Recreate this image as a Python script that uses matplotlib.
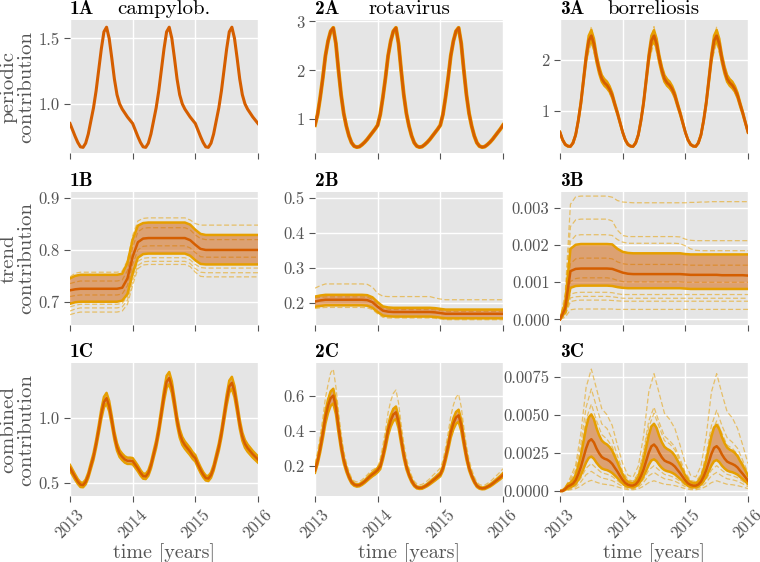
import numpy as np
import matplotlib
matplotlib.use("Agg")
import matplotlib.pyplot as plt

plt.style.use("ggplot")
plt.rcParams["font.family"] = ["cmr10", "DejaVu Serif"]
plt.rcParams["axes.formatter.use_mathtext"] = True
plt.rcParams["mathtext.fontset"] = "cm"

ORANGE = "#E69F00"
VERMILLION = "#D55E00"

# time grids: half-month steps and month steps over 2013-2016
T_HALF = np.linspace(2013, 2016, 73)
T_MONTH = np.linspace(2013, 2016, 37)
YEAR_TICKS = [2013, 2014, 2015, 2016]
YEAR_LABELS = ["2013", "2014", "2015", "2016"]

DISEASES = ["campylob.", "rotavirus", "borreliosis"]
ROW_LABELS = ["periodic\ncontribution", "trend\ncontribution", "combined\ncontribution"]

# ---- row A: periodic contribution (half-month values) ----
A1_MED = [0.85, 0.80, 0.75, 0.705, 0.672, 0.668, 0.70, 0.77, 0.87, 0.97, 1.10, 1.26, 1.42, 1.55, 1.585, 1.50, 1.35, 1.19, 1.07, 1.00, 0.96, 0.93, 0.90, 0.875,
          0.85, 0.80, 0.75, 0.705, 0.672, 0.668, 0.70, 0.77, 0.87, 0.97, 1.10, 1.26, 1.42, 1.55, 1.585, 1.50, 1.35, 1.19, 1.07, 1.00, 0.96, 0.93, 0.90, 0.875,
          0.85, 0.80, 0.75, 0.705, 0.672, 0.668, 0.70, 0.77, 0.87, 0.97, 1.10, 1.26, 1.42, 1.55, 1.585, 1.50, 1.35, 1.19, 1.07, 1.00, 0.96, 0.93, 0.90, 0.875,
          0.85]
A2_MED = [0.88, 1.10, 1.45, 1.85, 2.30, 2.60, 2.80, 2.87, 2.55, 2.00, 1.50, 1.12, 0.86, 0.66, 0.52, 0.45, 0.43, 0.44, 0.48, 0.53, 0.59, 0.66, 0.73, 0.80,
          0.88, 1.10, 1.45, 1.85, 2.30, 2.60, 2.80, 2.87, 2.55, 2.00, 1.50, 1.12, 0.86, 0.66, 0.52, 0.45, 0.43, 0.44, 0.48, 0.53, 0.59, 0.66, 0.73, 0.80,
          0.88, 1.10, 1.45, 1.85, 2.30, 2.60, 2.80, 2.87, 2.55, 2.00, 1.50, 1.12, 0.86, 0.66, 0.52, 0.45, 0.43, 0.44, 0.48, 0.53, 0.59, 0.66, 0.73, 0.80,
          0.88]
A3_MED = [0.57, 0.42, 0.33, 0.295, 0.29, 0.36, 0.52, 0.80, 1.15, 1.60, 2.05, 2.38, 2.48, 2.32, 2.03, 1.80, 1.63, 1.55, 1.50, 1.42, 1.30, 1.12, 0.95, 0.76,
          0.57, 0.42, 0.33, 0.295, 0.29, 0.36, 0.52, 0.80, 1.15, 1.60, 2.05, 2.38, 2.48, 2.32, 2.03, 1.80, 1.63, 1.55, 1.50, 1.42, 1.30, 1.12, 0.95, 0.76,
          0.57, 0.42, 0.33, 0.295, 0.29, 0.36, 0.52, 0.80, 1.15, 1.60, 2.05, 2.38, 2.48, 2.32, 2.03, 1.80, 1.63, 1.55, 1.50, 1.42, 1.30, 1.12, 0.95, 0.76,
          0.57]
A3_HI = [0.58, 0.43, 0.34, 0.30, 0.295, 0.37, 0.535, 0.825, 1.19, 1.66, 2.13, 2.48, 2.59, 2.42, 2.11, 1.87, 1.70, 1.62, 1.57, 1.48, 1.35, 1.16, 0.98, 0.78,
         0.58, 0.43, 0.34, 0.30, 0.295, 0.37, 0.535, 0.825, 1.19, 1.66, 2.13, 2.48, 2.59, 2.42, 2.11, 1.87, 1.70, 1.62, 1.57, 1.48, 1.35, 1.16, 0.98, 0.78,
         0.58, 0.43, 0.34, 0.30, 0.295, 0.37, 0.535, 0.825, 1.19, 1.66, 2.13, 2.48, 2.59, 2.42, 2.11, 1.87, 1.70, 1.62, 1.57, 1.48, 1.35, 1.16, 0.98, 0.78,
         0.58]
A3_LO = [0.56, 0.41, 0.32, 0.29, 0.285, 0.35, 0.505, 0.775, 1.11, 1.54, 1.97, 2.28, 2.38, 2.23, 1.95, 1.73, 1.57, 1.49, 1.44, 1.37, 1.25, 1.08, 0.92, 0.74,
         0.56, 0.41, 0.32, 0.29, 0.285, 0.35, 0.505, 0.775, 1.11, 1.54, 1.97, 2.28, 2.38, 2.23, 1.95, 1.73, 1.57, 1.49, 1.44, 1.37, 1.25, 1.08, 0.92, 0.74,
         0.56, 0.41, 0.32, 0.29, 0.285, 0.35, 0.505, 0.775, 1.11, 1.54, 1.97, 2.28, 2.38, 2.23, 1.95, 1.73, 1.57, 1.49, 1.44, 1.37, 1.25, 1.08, 0.92, 0.74,
         0.56]
# monthly samples
A3_S1 = [0.58, 0.34, 0.30, 0.54, 1.19, 2.14, 2.66, 2.10, 1.70, 1.57, 1.35, 0.98,
         0.58, 0.34, 0.30, 0.54, 1.19, 2.14, 2.66, 2.10, 1.70, 1.57, 1.35, 0.98,
         0.58, 0.34, 0.30, 0.54, 1.19, 2.14, 2.66, 2.10, 1.70, 1.57, 1.35, 0.98, 0.58]
A3_S2 = [0.56, 0.32, 0.28, 0.50, 1.11, 1.96, 2.34, 1.95, 1.56, 1.44, 1.25, 0.92,
         0.56, 0.32, 0.28, 0.50, 1.11, 1.96, 2.34, 1.95, 1.56, 1.44, 1.25, 0.92,
         0.56, 0.32, 0.28, 0.50, 1.11, 1.96, 2.34, 1.95, 1.56, 1.44, 1.25, 0.92, 0.56]

# ---- row B: trend contribution (monthly values) ----
B1_MED = [0.722, 0.724, 0.725, 0.725, 0.725, 0.725, 0.725, 0.725, 0.725, 0.725, 0.727, 0.745, 0.787, 0.815, 0.822,
          0.823, 0.823, 0.823, 0.823, 0.823, 0.823, 0.823, 0.823, 0.819, 0.810, 0.802,
          0.800, 0.800, 0.800, 0.800, 0.800, 0.800, 0.800, 0.800, 0.800, 0.800, 0.800]
B1_HI = [0.745, 0.750, 0.752, 0.752, 0.752, 0.752, 0.752, 0.752, 0.752, 0.752, 0.754, 0.775, 0.820, 0.847, 0.852,
         0.853, 0.853, 0.853, 0.853, 0.853, 0.853, 0.853, 0.853, 0.849, 0.839, 0.831,
         0.829, 0.829, 0.829, 0.829, 0.829, 0.829, 0.829, 0.829, 0.829, 0.829, 0.829]
B1_LO = [0.696, 0.699, 0.700, 0.700, 0.700, 0.700, 0.700, 0.700, 0.700, 0.700, 0.702, 0.715, 0.755, 0.785, 0.792,
         0.793, 0.793, 0.793, 0.793, 0.793, 0.793, 0.793, 0.793, 0.789, 0.780, 0.773,
         0.772, 0.772, 0.772, 0.772, 0.772, 0.772, 0.772, 0.772, 0.772, 0.772, 0.772]
B1_SAMPLES = [
    [0.748, 0.755, 0.757, 0.757, 0.757, 0.757, 0.757, 0.757, 0.757, 0.757, 0.759, 0.780, 0.828, 0.856, 0.861,
     0.862, 0.862, 0.862, 0.862, 0.862, 0.862, 0.862, 0.862, 0.858, 0.851, 0.848,
     0.848, 0.848, 0.848, 0.848, 0.848, 0.848, 0.848, 0.848, 0.848, 0.848, 0.848],
    [0.735, 0.738, 0.740, 0.740, 0.740, 0.740, 0.740, 0.740, 0.740, 0.740, 0.742, 0.760, 0.805, 0.835, 0.842,
     0.843, 0.843, 0.843, 0.843, 0.843, 0.843, 0.843, 0.843, 0.839, 0.829, 0.822,
     0.820, 0.820, 0.820, 0.820, 0.820, 0.820, 0.820, 0.820, 0.820, 0.820, 0.820],
    [0.710, 0.712, 0.713, 0.713, 0.713, 0.713, 0.713, 0.713, 0.713, 0.713, 0.715, 0.731, 0.772, 0.800, 0.807,
     0.808, 0.808, 0.808, 0.808, 0.808, 0.808, 0.808, 0.808, 0.804, 0.795, 0.787,
     0.786, 0.786, 0.786, 0.786, 0.786, 0.786, 0.786, 0.786, 0.786, 0.786, 0.786],
    [0.690, 0.693, 0.695, 0.695, 0.695, 0.695, 0.695, 0.695, 0.695, 0.695, 0.697, 0.710, 0.748, 0.778, 0.784,
     0.785, 0.785, 0.785, 0.785, 0.785, 0.785, 0.785, 0.785, 0.781, 0.772, 0.766,
     0.765, 0.765, 0.765, 0.765, 0.765, 0.765, 0.765, 0.765, 0.765, 0.765, 0.765],
    [0.682, 0.686, 0.688, 0.688, 0.688, 0.688, 0.688, 0.688, 0.688, 0.688, 0.690, 0.703, 0.740, 0.770, 0.777,
     0.778, 0.778, 0.778, 0.778, 0.778, 0.778, 0.778, 0.778, 0.774, 0.764, 0.757,
     0.756, 0.756, 0.756, 0.756, 0.756, 0.756, 0.756, 0.756, 0.756, 0.756, 0.756],
    [0.675, 0.678, 0.680, 0.680, 0.680, 0.680, 0.680, 0.680, 0.680, 0.680, 0.682, 0.695, 0.732, 0.764, 0.771,
     0.772, 0.772, 0.772, 0.772, 0.772, 0.772, 0.772, 0.772, 0.768, 0.757, 0.749,
     0.748, 0.748, 0.748, 0.748, 0.748, 0.748, 0.748, 0.748, 0.748, 0.748, 0.748],
]

B2_MED = [0.205, 0.208, 0.210, 0.210, 0.210, 0.210, 0.210, 0.210, 0.210, 0.210, 0.209, 0.203, 0.190, 0.179, 0.176,
          0.175, 0.175, 0.175, 0.175, 0.175, 0.175, 0.175, 0.175, 0.174, 0.172, 0.170,
          0.170, 0.170, 0.170, 0.170, 0.170, 0.170, 0.170, 0.170, 0.170, 0.170, 0.170]
B2_HI = [0.219, 0.222, 0.224, 0.224, 0.224, 0.224, 0.224, 0.224, 0.224, 0.224, 0.223, 0.217, 0.203, 0.191, 0.188,
         0.187, 0.187, 0.187, 0.187, 0.187, 0.187, 0.187, 0.187, 0.186, 0.184, 0.182,
         0.182, 0.182, 0.182, 0.182, 0.182, 0.182, 0.182, 0.182, 0.182, 0.182, 0.182]
B2_LO = [0.190, 0.192, 0.194, 0.194, 0.194, 0.194, 0.194, 0.194, 0.194, 0.194, 0.193, 0.187, 0.175, 0.165, 0.163,
         0.162, 0.162, 0.162, 0.162, 0.162, 0.162, 0.162, 0.162, 0.161, 0.159, 0.157,
         0.157, 0.157, 0.157, 0.157, 0.157, 0.157, 0.157, 0.157, 0.157, 0.157, 0.157]
B2_SAMPLES = [
    [0.243, 0.250, 0.255, 0.255, 0.255, 0.255, 0.255, 0.255, 0.255, 0.255, 0.254, 0.246, 0.228, 0.220, 0.219,
     0.219, 0.219, 0.219, 0.219, 0.219, 0.219, 0.219, 0.219, 0.215, 0.212, 0.210,
     0.210, 0.210, 0.210, 0.210, 0.210, 0.210, 0.210, 0.210, 0.210, 0.210, 0.210],
    [0.215, 0.217, 0.218, 0.218, 0.218, 0.218, 0.218, 0.218, 0.218, 0.218, 0.217, 0.211, 0.197, 0.186, 0.183,
     0.182, 0.182, 0.182, 0.182, 0.182, 0.182, 0.182, 0.182, 0.181, 0.179, 0.177,
     0.177, 0.177, 0.177, 0.177, 0.177, 0.177, 0.177, 0.177, 0.177, 0.177, 0.177],
    [0.185, 0.187, 0.188, 0.188, 0.188, 0.188, 0.188, 0.188, 0.188, 0.188, 0.187, 0.182, 0.170, 0.160, 0.158,
     0.158, 0.158, 0.158, 0.158, 0.158, 0.158, 0.158, 0.158, 0.157, 0.155, 0.153,
     0.153, 0.153, 0.153, 0.153, 0.153, 0.153, 0.153, 0.153, 0.153, 0.153, 0.153],
]

B3_MED = [0.0, 0.00030, 0.00130, 0.00136, 0.00137, 0.00137, 0.00137, 0.00137, 0.00137, 0.00137, 0.00136, 0.00131, 0.00126, 0.00123,
          0.00122, 0.00122, 0.00122, 0.00122, 0.00122, 0.00122, 0.00122, 0.00122, 0.00122, 0.00122, 0.00121,
          0.00120, 0.00120, 0.00120, 0.00120, 0.00120, 0.00120, 0.00119, 0.00119, 0.00119, 0.00119, 0.00119, 0.00118]
B3_HI = [0.0, 0.00045, 0.00190, 0.00201, 0.00203, 0.00203, 0.00203, 0.00203, 0.00203, 0.00203, 0.00202, 0.00190, 0.00182, 0.00179,
         0.00178, 0.00178, 0.00178, 0.00178, 0.00178, 0.00178, 0.00178, 0.00178, 0.00178, 0.00178, 0.00176,
         0.00175, 0.00175, 0.00175, 0.00175, 0.00175, 0.00175, 0.00175, 0.00175, 0.00175, 0.00175, 0.00175, 0.00175]
B3_LO = [0.0, 0.00020, 0.00085, 0.00090, 0.00091, 0.00091, 0.00091, 0.00091, 0.00091, 0.00091, 0.00090, 0.00087, 0.00085, 0.00084,
         0.00084, 0.00084, 0.00084, 0.00084, 0.00084, 0.00084, 0.00084, 0.00084, 0.00084, 0.00084, 0.00083,
         0.00082, 0.00082, 0.00082, 0.00082, 0.00082, 0.00082, 0.00082, 0.00082, 0.00082, 0.00082, 0.00082, 0.00082]
B3_SAMPLES = [
    [0.0, 0.00070, 0.00310, 0.00330, 0.00332, 0.00332, 0.00332, 0.00332, 0.00332, 0.00332, 0.00329, 0.00320, 0.00316, 0.00315,
     0.00314, 0.00314, 0.00314, 0.00314, 0.00314, 0.00314, 0.00314, 0.00314, 0.00314, 0.00314, 0.00314,
     0.00315, 0.00315, 0.00316, 0.00316, 0.00317, 0.00317, 0.00317, 0.00317, 0.00317, 0.00317, 0.00317, 0.00317],
    [0.0, 0.00055, 0.00250, 0.00268, 0.00270, 0.00270, 0.00270, 0.00270, 0.00270, 0.00270, 0.00265, 0.00240, 0.00226, 0.00223,
     0.00223, 0.00223, 0.00223, 0.00223, 0.00223, 0.00223, 0.00223, 0.00223, 0.00223, 0.00222, 0.00216,
     0.00213, 0.00212, 0.00212, 0.00212, 0.00212, 0.00212, 0.00212, 0.00212, 0.00212, 0.00212, 0.00212, 0.00212],
    [0.0, 0.00045, 0.00210, 0.00226, 0.00228, 0.00228, 0.00228, 0.00228, 0.00228, 0.00228, 0.00226, 0.00215, 0.00208, 0.00205,
     0.00205, 0.00205, 0.00205, 0.00205, 0.00205, 0.00205, 0.00205, 0.00205, 0.00205, 0.00204, 0.00198,
     0.00190, 0.00186, 0.00185, 0.00185, 0.00185, 0.00185, 0.00185, 0.00185, 0.00185, 0.00185, 0.00185, 0.00185],
    [0.0, 0.00036, 0.00150, 0.00163, 0.00165, 0.00165, 0.00165, 0.00165, 0.00165, 0.00165, 0.00163, 0.00155, 0.00150, 0.00148,
     0.00148, 0.00148, 0.00148, 0.00148, 0.00148, 0.00148, 0.00148, 0.00148, 0.00148, 0.00148, 0.00147,
     0.00146, 0.00146, 0.00146, 0.00146, 0.00146, 0.00146, 0.00146, 0.00146, 0.00146, 0.00146, 0.00146, 0.00146],
    [0.0, 0.00024, 0.00102, 0.00110, 0.00112, 0.00112, 0.00112, 0.00112, 0.00112, 0.00112, 0.00110, 0.00105, 0.00102, 0.00101,
     0.00101, 0.00101, 0.00101, 0.00101, 0.00101, 0.00101, 0.00101, 0.00101, 0.00101, 0.00101, 0.00100,
     0.00100, 0.00100, 0.00100, 0.00100, 0.00100, 0.00100, 0.00100, 0.00100, 0.00100, 0.00100, 0.00100, 0.00100],
    [0.0, 0.00016, 0.00068, 0.00072, 0.00073, 0.00073, 0.00073, 0.00073, 0.00073, 0.00073, 0.00072, 0.00069, 0.00067, 0.00067,
     0.00067, 0.00067, 0.00067, 0.00067, 0.00067, 0.00067, 0.00067, 0.00067, 0.00067, 0.00067, 0.00067,
     0.00067, 0.00067, 0.00067, 0.00067, 0.00067, 0.00067, 0.00067, 0.00067, 0.00067, 0.00067, 0.00067, 0.00067],
    [0.0, 0.00013, 0.00058, 0.00061, 0.00062, 0.00062, 0.00062, 0.00062, 0.00062, 0.00062, 0.00061, 0.00059, 0.00057, 0.00057,
     0.00057, 0.00057, 0.00057, 0.00057, 0.00057, 0.00057, 0.00057, 0.00057, 0.00057, 0.00057, 0.00057,
     0.00057, 0.00057, 0.00057, 0.00057, 0.00057, 0.00057, 0.00057, 0.00057, 0.00057, 0.00057, 0.00057, 0.00057],
    [0.0, 0.00011, 0.00048, 0.00051, 0.00052, 0.00052, 0.00052, 0.00052, 0.00052, 0.00052, 0.00051, 0.00050, 0.00049, 0.00049,
     0.00049, 0.00049, 0.00049, 0.00049, 0.00049, 0.00049, 0.00049, 0.00049, 0.00049, 0.00049, 0.00049,
     0.00049, 0.00049, 0.00049, 0.00049, 0.00049, 0.00049, 0.00049, 0.00049, 0.00049, 0.00049, 0.00049, 0.00049],
    [0.0, 0.00006, 0.00026, 0.00028, 0.00028, 0.00028, 0.00028, 0.00028, 0.00028, 0.00028, 0.00028, 0.00027, 0.00027, 0.00027,
     0.00027, 0.00027, 0.00027, 0.00027, 0.00027, 0.00027, 0.00027, 0.00027, 0.00027, 0.00027, 0.00027,
     0.00027, 0.00027, 0.00027, 0.00027, 0.00027, 0.00027, 0.00027, 0.00027, 0.00027, 0.00027, 0.00027, 0.00027],
]

# ---- row C: combined contribution (half-month values) ----
C1_MED = [0.616, 0.58, 0.544, 0.511, 0.487, 0.484, 0.508, 0.558, 0.631, 0.703, 0.80, 0.91, 1.03, 1.12, 1.15, 1.09, 0.98, 0.863, 0.776, 0.725, 0.70, 0.68, 0.67, 0.67,
          0.667, 0.64, 0.611, 0.578, 0.553, 0.55, 0.576, 0.634, 0.716, 0.798, 0.905, 1.037, 1.169, 1.276, 1.304, 1.235, 1.111, 0.979, 0.881, 0.823, 0.79, 0.765, 0.74, 0.71,
          0.689, 0.642, 0.60, 0.564, 0.538, 0.534, 0.56, 0.616, 0.696, 0.776, 0.88, 1.008, 1.136, 1.24, 1.268, 1.20, 1.08, 0.952, 0.856, 0.80, 0.768, 0.744, 0.72, 0.70,
          0.68]
C1_HI = [0.638, 0.601, 0.564, 0.529, 0.505, 0.501, 0.526, 0.578, 0.654, 0.728, 0.829, 0.943, 1.067, 1.16, 1.191, 1.129, 1.015, 0.894, 0.804, 0.751, 0.725, 0.704, 0.694, 0.694,
         0.691, 0.663, 0.633, 0.599, 0.573, 0.57, 0.597, 0.657, 0.742, 0.827, 0.938, 1.074, 1.211, 1.322, 1.351, 1.279, 1.151, 1.014, 0.913, 0.853, 0.818, 0.793, 0.767, 0.736,
         0.714, 0.665, 0.622, 0.584, 0.557, 0.553, 0.58, 0.638, 0.721, 0.804, 0.912, 1.044, 1.177, 1.285, 1.314, 1.243, 1.119, 0.986, 0.887, 0.829, 0.796, 0.771, 0.746, 0.725,
         0.704]
C1_LO = [0.594, 0.559, 0.524, 0.493, 0.469, 0.467, 0.49, 0.538, 0.608, 0.678, 0.771, 0.877, 0.993, 1.08, 1.109, 1.051, 0.945, 0.832, 0.748, 0.699, 0.675, 0.656, 0.646, 0.646,
         0.643, 0.617, 0.589, 0.557, 0.533, 0.53, 0.555, 0.611, 0.69, 0.769, 0.872, 1.0, 1.127, 1.23, 1.257, 1.191, 1.071, 0.944, 0.849, 0.793, 0.762, 0.737, 0.713, 0.684,
         0.664, 0.619, 0.578, 0.544, 0.519, 0.515, 0.54, 0.594, 0.671, 0.748, 0.848, 0.972, 1.095, 1.195, 1.222, 1.157, 1.041, 0.918, 0.825, 0.771, 0.74, 0.717, 0.694, 0.675,
         0.656]

C2_MED = [0.175, 0.228, 0.30, 0.385, 0.478, 0.543, 0.586, 0.60, 0.535, 0.42, 0.315, 0.235, 0.181, 0.139, 0.109, 0.095, 0.09, 0.092, 0.101, 0.112, 0.126, 0.141, 0.153, 0.164,
          0.178, 0.198, 0.255, 0.325, 0.405, 0.458, 0.493, 0.505, 0.449, 0.352, 0.264, 0.197, 0.151, 0.116, 0.092, 0.079, 0.076, 0.077, 0.084, 0.093, 0.104, 0.116, 0.128, 0.141,
          0.153, 0.187, 0.247, 0.315, 0.391, 0.442, 0.476, 0.488, 0.434, 0.34, 0.255, 0.19, 0.146, 0.112, 0.088, 0.077, 0.073, 0.075, 0.082, 0.09, 0.10, 0.112, 0.124, 0.136,
          0.15]
C2_HI = [0.186, 0.243, 0.32, 0.41, 0.509, 0.578, 0.624, 0.639, 0.57, 0.447, 0.335, 0.25, 0.193, 0.148, 0.116, 0.101, 0.096, 0.098, 0.108, 0.119, 0.134, 0.15, 0.163, 0.175,
         0.19, 0.211, 0.272, 0.346, 0.431, 0.488, 0.525, 0.538, 0.478, 0.375, 0.281, 0.21, 0.161, 0.124, 0.098, 0.084, 0.081, 0.082, 0.089, 0.099, 0.111, 0.124, 0.136, 0.15,
         0.163, 0.199, 0.263, 0.335, 0.416, 0.471, 0.507, 0.52, 0.462, 0.362, 0.272, 0.202, 0.155, 0.119, 0.094, 0.082, 0.078, 0.08, 0.087, 0.096, 0.107, 0.119, 0.132, 0.145,
         0.16]
C2_LO = [0.162, 0.211, 0.278, 0.356, 0.442, 0.502, 0.542, 0.555, 0.495, 0.389, 0.291, 0.217, 0.167, 0.129, 0.101, 0.088, 0.083, 0.085, 0.093, 0.104, 0.117, 0.13, 0.142, 0.152,
         0.165, 0.183, 0.236, 0.301, 0.375, 0.424, 0.456, 0.467, 0.415, 0.326, 0.244, 0.182, 0.14, 0.107, 0.085, 0.073, 0.07, 0.071, 0.078, 0.086, 0.096, 0.107, 0.118, 0.13,
         0.142, 0.173, 0.228, 0.291, 0.362, 0.409, 0.44, 0.451, 0.401, 0.315, 0.236, 0.176, 0.135, 0.104, 0.081, 0.071, 0.068, 0.069, 0.076, 0.083, 0.093, 0.104, 0.115, 0.126,
         0.139]
C2_S1 = [0.214, 0.28, 0.37, 0.472, 0.587, 0.663, 0.73, 0.75, 0.65, 0.51, 0.383, 0.286, 0.219, 0.168, 0.133, 0.115, 0.11, 0.112, 0.122, 0.135, 0.15, 0.166, 0.178, 0.186,
         0.195, 0.241, 0.318, 0.405, 0.504, 0.569, 0.613, 0.632, 0.558, 0.438, 0.329, 0.245, 0.188, 0.145, 0.114, 0.099, 0.094, 0.096, 0.105, 0.116, 0.129, 0.145, 0.159, 0.173,
         0.189, 0.231, 0.305, 0.389, 0.483, 0.546, 0.59, 0.608, 0.536, 0.42, 0.315, 0.235, 0.181, 0.139, 0.109, 0.095, 0.09, 0.092, 0.101, 0.111, 0.124, 0.139, 0.153, 0.168,
         0.185]

C3_MED = [0.0, 0.0, 0.00013, 0.0003, 0.00038, 0.00049, 0.00071, 0.0011, 0.00158, 0.0022, 0.0028, 0.00326, 0.0034, 0.00318, 0.00278, 0.00247, 0.00223, 0.00212, 0.00206, 0.00195, 0.00178, 0.00152, 0.00127, 0.00098,
          0.00072, 0.00052, 0.00041, 0.00036, 0.00036, 0.00044, 0.00064, 0.00098, 0.00141, 0.00197, 0.00252, 0.00293, 0.00305, 0.00285, 0.0025, 0.00221, 0.002, 0.00191, 0.00185, 0.00175, 0.0016, 0.00138, 0.00117, 0.00093,
          0.00069, 0.0005, 0.0004, 0.00035, 0.00035, 0.00043, 0.00062, 0.00095, 0.00137, 0.0019, 0.00244, 0.00283, 0.00294, 0.00275, 0.0024, 0.00213, 0.00193, 0.00184, 0.00177, 0.00168, 0.00154, 0.00132, 0.00112, 0.0009,
          0.00067]
C3_HI = [0.0, 0.0, 0.0002, 0.00044, 0.00055, 0.00072, 0.00106, 0.00162, 0.00233, 0.00325, 0.00416, 0.00483, 0.00503, 0.00471, 0.00412, 0.00365, 0.00331, 0.00315, 0.00305, 0.00288, 0.00264, 0.00226, 0.00188, 0.00145,
         0.00108, 0.00076, 0.00059, 0.00053, 0.00052, 0.00064, 0.00093, 0.00142, 0.00205, 0.00285, 0.00365, 0.00424, 0.00441, 0.00413, 0.00361, 0.0032, 0.0029, 0.00276, 0.00267, 0.00253, 0.00231, 0.002, 0.00169, 0.00135,
         0.001, 0.00074, 0.00058, 0.00052, 0.00051, 0.00063, 0.00091, 0.0014, 0.00201, 0.0028, 0.00359, 0.00417, 0.00434, 0.00406, 0.00355, 0.00315, 0.00285, 0.00271, 0.00263, 0.00249, 0.00228, 0.00196, 0.00166, 0.00133,
         0.001]
C3_LO = [0.0, 0.0, 0.00007, 0.00018, 0.00025, 0.00032, 0.00047, 0.00073, 0.00105, 0.00146, 0.00187, 0.00217, 0.00226, 0.00211, 0.00185, 0.00164, 0.00148, 0.00141, 0.00137, 0.00129, 0.00118, 0.00102, 0.00085, 0.00067,
         0.00049, 0.00036, 0.00028, 0.00025, 0.00024, 0.0003, 0.00044, 0.00067, 0.00097, 0.00134, 0.00172, 0.002, 0.00208, 0.00195, 0.00171, 0.00151, 0.00137, 0.0013, 0.00126, 0.00119, 0.00109, 0.00094, 0.0008, 0.00064,
         0.00047, 0.00034, 0.00027, 0.00024, 0.00024, 0.0003, 0.00043, 0.00066, 0.00094, 0.00131, 0.00168, 0.00195, 0.00203, 0.0019, 0.00166, 0.00148, 0.00134, 0.00127, 0.00123, 0.00116, 0.00107, 0.00092, 0.00078, 0.00062,
         0.00047]
# monthly samples
C3_SAMPLES = [
    [0.0, 0.00023, 0.0009, 0.0017, 0.0038, 0.0068, 0.0080, 0.0067, 0.0054, 0.0050, 0.0043, 0.0030, 0.0018,
     0.00104, 0.00091, 0.00164, 0.0036, 0.0065, 0.0077, 0.0064, 0.0051, 0.0047, 0.0041, 0.0030, 0.0018,
     0.00104, 0.00092, 0.00165, 0.0036, 0.0065, 0.0077, 0.0064, 0.0052, 0.0048, 0.0041, 0.0030, 0.0018],
    [0.0, 0.00018, 0.00073, 0.0014, 0.0031, 0.0055, 0.0067, 0.0055, 0.0044, 0.0041, 0.0034, 0.0023, 0.0013,
     0.00074, 0.00065, 0.00116, 0.0026, 0.0046, 0.0055, 0.0045, 0.0036, 0.0033, 0.0029, 0.0021, 0.0012,
     0.0007, 0.00061, 0.0011, 0.0024, 0.0043, 0.0053, 0.0043, 0.0035, 0.0032, 0.0028, 0.0020, 0.0012],
    [0.0, 0.00015, 0.00061, 0.00118, 0.0026, 0.0047, 0.0057, 0.0046, 0.0037, 0.0034, 0.0029, 0.0020, 0.0012,
     0.00068, 0.00059, 0.00107, 0.0024, 0.0042, 0.0051, 0.0042, 0.0033, 0.0031, 0.0027, 0.0019, 0.0011,
     0.00061, 0.00054, 0.00096, 0.0021, 0.0038, 0.0046, 0.0038, 0.0030, 0.0028, 0.0024, 0.0018, 0.0011],
    [0.0, 0.00005, 0.0002, 0.00038, 0.00084, 0.0015, 0.0018, 0.00148, 0.00119, 0.0011, 0.00095, 0.00068, 0.0004,
     0.00022, 0.00019, 0.00035, 0.00077, 0.00137, 0.00166, 0.00136, 0.00109, 0.0010, 0.00087, 0.00064, 0.00038,
     0.00022, 0.00019, 0.00035, 0.00077, 0.00137, 0.00166, 0.00136, 0.00109, 0.0010, 0.00087, 0.00064, 0.00038],
    [0.0, 0.00004, 0.00014, 0.00027, 0.0006, 0.00107, 0.00129, 0.00106, 0.00085, 0.00078, 0.00068, 0.00049, 0.00029,
     0.00016, 0.00014, 0.00025, 0.00056, 0.0010, 0.00122, 0.00099, 0.0008, 0.00074, 0.00064, 0.00047, 0.00028,
     0.00016, 0.00014, 0.00025, 0.00056, 0.0010, 0.00122, 0.00099, 0.0008, 0.00074, 0.00064, 0.00047, 0.00028],
    [0.0, 0.00002, 0.00008, 0.00015, 0.00032, 0.00057, 0.0007, 0.00057, 0.00046, 0.00042, 0.00036, 0.00027, 0.00016,
     0.00009, 0.00008, 0.00014, 0.00031, 0.00055, 0.00067, 0.00055, 0.00044, 0.00041, 0.00035, 0.00026, 0.00015,
     0.00009, 0.00008, 0.00014, 0.00031, 0.00055, 0.00067, 0.00055, 0.00044, 0.00041, 0.00035, 0.00026, 0.00015],
]

# y ranges and ticks per panel (row, column)
Y_LIMITS = [[(0.625, 1.64), (0.31, 3.03), (0.16, 2.79)],
            [(0.655, 0.912), (0.138, 0.517), (-0.00015, 0.00343)],
            [(0.40, 1.42), (0.03, 0.785), (-0.00033, 0.0084)]]
Y_TICKS = [[[1.0, 1.5], [1, 2, 3], [1, 2]],
           [[0.7, 0.8, 0.9], [0.2, 0.3, 0.4, 0.5], [0.0, 0.001, 0.002, 0.003]],
           [[0.5, 1.0], [0.2, 0.4, 0.6], [0.0, 0.0025, 0.005, 0.0075]]]
Y_TICK_LABELS = [[["1.0", "1.5"], ["1", "2", "3"], ["1", "2"]],
                 [["0.7", "0.8", "0.9"], ["0.2", "0.3", "0.4", "0.5"], ["0.000", "0.001", "0.002", "0.003"]],
                 [["0.5", "1.0"], ["0.2", "0.4", "0.6"], ["0.0000", "0.0025", "0.0050", "0.0075"]]]


def draw_samples(ax, t, samples):
    for s in samples:
        ax.plot(t, s, color=ORANGE, alpha=0.55, lw=0.9, ls=(0, (4, 2)), zorder=2)


def draw_band(ax, t, lo, hi):
    ax.fill_between(t, lo, hi, facecolor=VERMILLION, alpha=0.5, lw=0, zorder=3)
    ax.plot(t, lo, color=ORANGE, lw=1.8, zorder=4)
    ax.plot(t, hi, color=ORANGE, lw=1.8, zorder=4)


def draw_median(ax, t, m, lw=1.8):
    ax.plot(t, m, color=VERMILLION, lw=lw, zorder=5)


fig = plt.figure(figsize=(7.6, 5.62), dpi=100)
fig.patch.set_facecolor("white")

col_left = [70, 315, 560]
row_top = [20, 192, 363]
w, h = 188, 133
axes = [[fig.add_axes([x / 760, 1 - (y + h) / 562, w / 760, h / 562]) for x in col_left] for y in row_top]

# row A
ax = axes[0][0]
draw_median(ax, T_HALF, A1_MED, lw=2.2)
ax = axes[0][1]
ax.plot(T_HALF, A2_MED, color=ORANGE, lw=2.8, zorder=4)
draw_median(ax, T_HALF, A2_MED, lw=2.0)
ax = axes[0][2]
draw_samples(ax, T_MONTH, [A3_S1, A3_S2])
draw_band(ax, T_HALF, A3_LO, A3_HI)
draw_median(ax, T_HALF, A3_MED, lw=2.0)

# row B
for ax, samples, lo, hi, med in [(axes[1][0], B1_SAMPLES, B1_LO, B1_HI, B1_MED),
                                 (axes[1][1], B2_SAMPLES, B2_LO, B2_HI, B2_MED),
                                 (axes[1][2], B3_SAMPLES, B3_LO, B3_HI, B3_MED)]:
    draw_samples(ax, T_MONTH, samples)
    draw_band(ax, T_MONTH, lo, hi)
    draw_median(ax, T_MONTH, med)

# row C
ax = axes[2][0]
draw_band(ax, T_HALF, C1_LO, C1_HI)
draw_median(ax, T_HALF, C1_MED)
ax = axes[2][1]
draw_samples(ax, T_HALF, [C2_S1])
draw_band(ax, T_HALF, C2_LO, C2_HI)
draw_median(ax, T_HALF, C2_MED)
ax = axes[2][2]
draw_samples(ax, T_MONTH, C3_SAMPLES)
draw_band(ax, T_HALF, C3_LO, C3_HI)
draw_median(ax, T_HALF, C3_MED)

for r in range(3):
    for c in range(3):
        ax = axes[r][c]
        ax.set_facecolor("#E5E5E5")
        ax.grid(True, color="white", lw=1.0)
        ax.set_xlim(2013, 2016)
        ax.set_ylim(*Y_LIMITS[r][c])
        ax.set_xticks(YEAR_TICKS)
        ax.set_yticks(Y_TICKS[r][c])
        ax.set_yticklabels(Y_TICK_LABELS[r][c])
        ax.tick_params(axis="both", colors="#555555", labelsize=12, length=4, width=0.8, direction="out")
        if r == 2:
            ax.set_xticklabels(YEAR_LABELS, rotation=45, ha="center")
            ax.set_xlabel("time [years]", fontsize=14.5, color="#555555", labelpad=2)
        else:
            ax.set_xticklabels([])
        for sp in ax.spines.values():
            sp.set_visible(False)
        ax.set_title(f"{c + 1}{'ABC'[r]}", loc="left", fontsize=14, fontfamily="cmb10",
                     color="black", pad=4)
        if r == 0:
            ax.set_title(DISEASES[c], loc="center", fontsize=15, color="black", pad=4)
    axes[r][0].set_ylabel(ROW_LABELS[r], fontsize=15, color="#555555", labelpad=2,
                          linespacing=1.0)

fig.savefig("out.png", dpi=100)
